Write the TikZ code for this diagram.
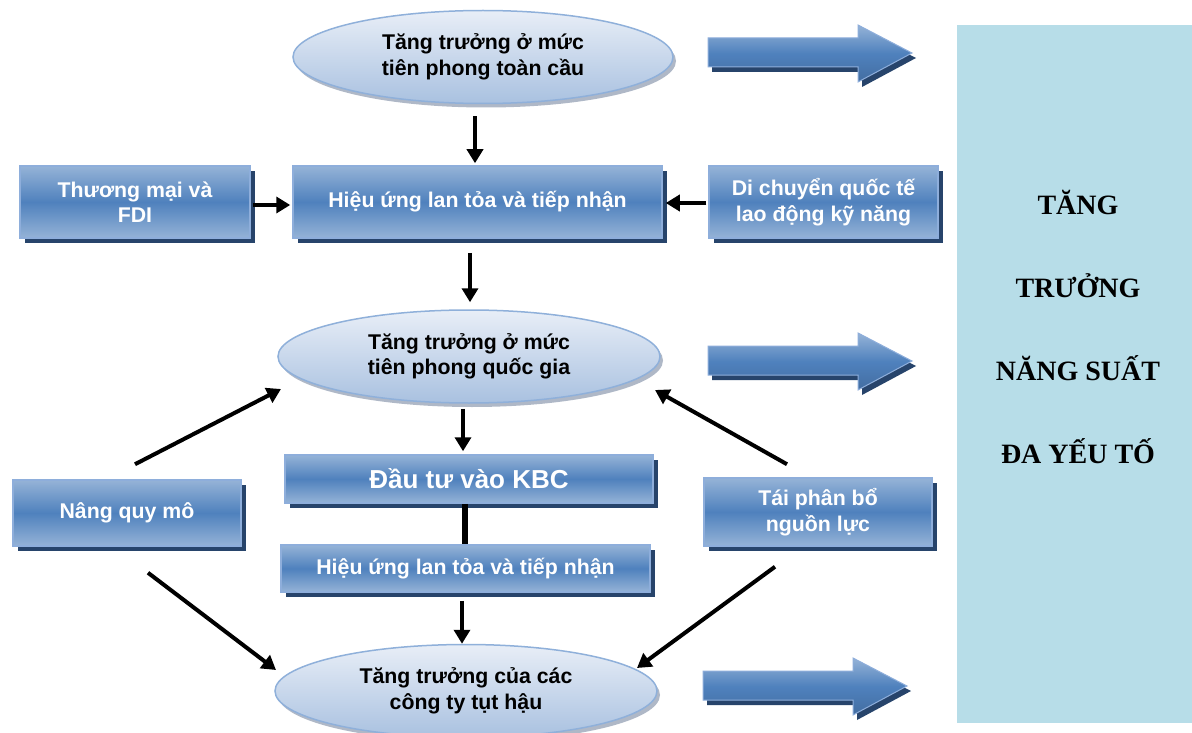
\documentclass[tikz,border=0pt]{standalone}
\usepackage{fontspec}
\setmainfont{Liberation Serif}
\setsansfont{Liberation Sans}
\usetikzlibrary{shapes.geometric,shadows,arrows.meta}
\definecolor{boxmid}{HTML}{4F81BD}
\definecolor{boxlight}{HTML}{95B3D7}
\definecolor{boxborder}{HTML}{8EAEDB}
\definecolor{boxshadow}{HTML}{27446B}
\definecolor{elltop}{HTML}{E8EEF7}
\definecolor{ellbot}{HTML}{A9C1E0}
\definecolor{ellborder}{HTML}{8FB0DA}
\definecolor{ellshadow}{HTML}{8E9BB0}
\definecolor{panel}{HTML}{B7DDE8}
\tikzset{
  bluebox/.style={rectangle, draw=boxborder, line width=1.5pt,
    top color=boxlight, bottom color=boxlight, middle color=boxmid,
    text=white, font=\sffamily\bfseries\fontsize{21.3}{25.5}\selectfont,
    align=center, inner sep=0pt,
    drop shadow={shadow xshift=5pt, shadow yshift=-5pt, fill=boxshadow, opacity=1}},
  ellbox/.style={ellipse, draw=ellborder, line width=1.5pt,
    top color=elltop, bottom color=ellbot,
    text=black, font=\sffamily\bfseries\fontsize{21.3}{25.5}\selectfont,
    align=center, inner sep=0pt,
    drop shadow={shadow xshift=3pt, shadow yshift=-4pt, fill=ellshadow, opacity=0.7}},
  arr/.style={line width=4pt, -{Triangle[length=14pt,width=16pt]}},
  bigarr/.pic={
    \fill[boxshadow] (4,18) -- (154,18) -- (154,5) -- (208,33) -- (154,62) -- (154,47) -- (4,47) -- cycle;
    \shade[top color=boxlight, bottom color=boxmid!85!black, middle color=boxmid, draw=boxborder, line width=1pt]
      (0,13) -- (150,13) -- (150,0) -- (204,28) -- (150,57) -- (150,42) -- (0,42) -- cycle;
  }
}
\begin{document}
\begin{tikzpicture}[x=1pt,y=-1pt]
\useasboundingbox (0,0) rectangle (1192,733);
\fill[white] (0,0) rectangle (1192,733);

% right panel
\fill[panel] (957,25) rectangle (1192,723);
\node[font=\rmfamily\bfseries\fontsize{28}{83}\selectfont, align=center] (panel) at (1078,327)
  {TĂNG\\TRƯỞNG\\NĂNG SUẤT\\ĐA YẾU TỐ};

% big arrows
\pic at (708,25) {bigarr};
\pic at (708,333) {bigarr};
\pic at (703,658) {bigarr};

% nodes
\node[ellbox, minimum width=380, minimum height=93] (e1) at (483,57) {Tăng trưởng ở mức\\tiên phong toàn cầu};
\node[bluebox, minimum width=230, minimum height=72] (tm) at (135,202) {Thương mại và\\FDI};
\node[bluebox, minimum width=369, minimum height=72] (h1) at (477.5,202) {Hiệu ứng lan tỏa và tiếp nhận};
\node[bluebox, minimum width=229, minimum height=72] (dc) at (823.5,202) {Di chuyển quốc tế\\lao động kỹ năng};
\node[ellbox, minimum width=382, minimum height=93] (e2) at (469,356.5) {Tăng trưởng ở mức\\tiên phong quốc gia};
\node[bluebox, minimum width=368, minimum height=48, font=\sffamily\bfseries\fontsize{26}{30}\selectfont] (kbc) at (469,479) {Đầu tư vào KBC};
\node[bluebox, minimum width=228, minimum height=66] (nq) at (127,513) {Nâng quy mô};
\node[bluebox, minimum width=228, minimum height=68] (tp) at (818,512) {Tái phân bổ\\nguồn lực};
\node[bluebox, minimum width=369, minimum height=47] (h2) at (465.5,568.5) {Hiệu ứng lan tỏa và tiếp nhận};
\node[ellbox, minimum width=382, minimum height=93] (e3) at (466,691) {Tăng trưởng của các\\công ty tụt hậu};

% connectors
\draw[arr] ([shift={(-8,12)}]e1.south) -- ([shift={(-2.5,-2)}]h1.north);
\draw[arr] ([shift={(2,3)}]tm.east) -- ([shift={(-2,3)}]h1.west);
\draw[arr] ([shift={(-2,1)}]dc.west) -- ([shift={(3,1)}]h1.east);
\draw[arr] ([shift={(-7.5,14)}]h1.south) -- ([shift={(1,-7)}]e2.north);
\draw[arr] ([shift={(-6,5)}]e2.south) -- ([shift={(-6,-3)}]kbc.north);
\draw[line width=6pt] ([shift={(-4,0)}]kbc.south) -- ([shift={(-0.5,0)}]h2.north);
\draw[arr] ([shift={(-3.5,8)}]h2.south) -- ([shift={(-4,0)}]e3.north);
\draw[arr] ([shift={(8,-15)}]nq.north) -- ([shift={(-188,32.5)}]e2.center);
\draw[arr] ([shift={(-31,-13)}]tp.north) -- ([shift={(186,33.5)}]e2.center);
\draw[arr] ([shift={(21,26)}]nq.south) -- ([shift={(-190,-21)}]e3.center);
\draw[arr] ([shift={(-43,20)}]tp.south) -- ([shift={(171,-23)}]e3.center);
\end{tikzpicture}
\end{document}
